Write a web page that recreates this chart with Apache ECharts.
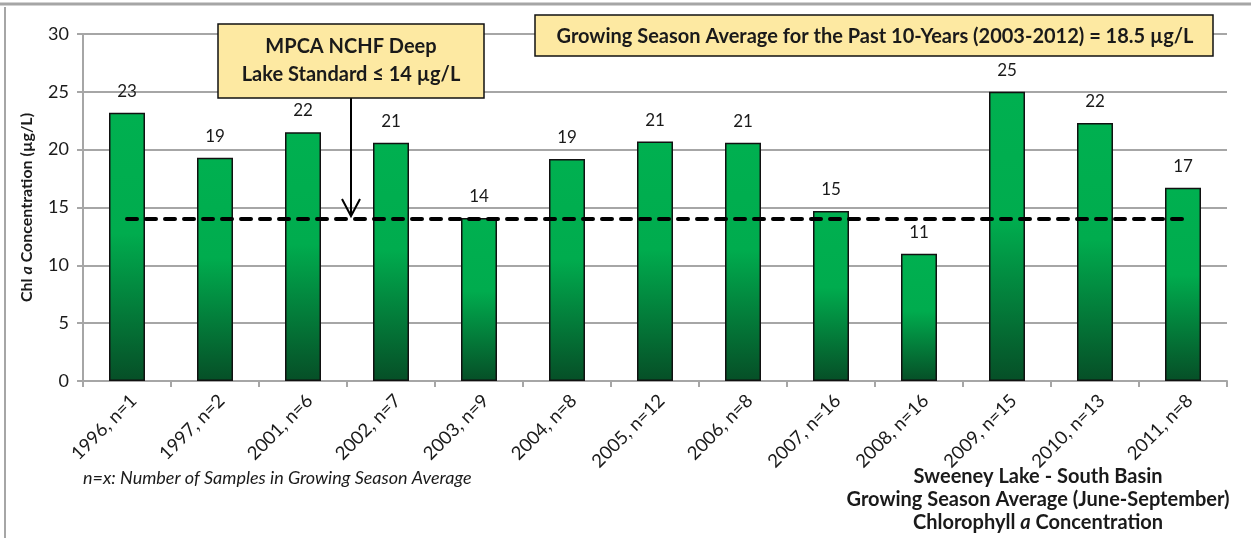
<!DOCTYPE html>
<html>
<head>
<meta charset="utf-8">
<title>Sweeney Lake - South Basin Chlorophyll a</title>
<script src="https://cdn.jsdelivr.net/npm/echarts@6/dist/echarts.min.js"></script>
<style>
  html, body { margin: 0; padding: 0; background: #fff; }
  #chart { width: 1251px; height: 538px; }
</style>
</head>
<body>
<div id="chart"></div>
<script>
// data
var categories = ['1996, n=1', '1997, n=2', '2001, n=6', '2002, n=7', '2003, n=9', '2004, n=8',
  '2005, n=12', '2006, n=8', '2007, n=16', '2008, n=16', '2009, n=15', '2010, n=13', '2011, n=8'];
var chlValues = [23.2, 19.3, 21.5, 20.6, 14.1, 19.2, 20.7, 20.6, 14.7, 11.0, 25.0, 22.3, 16.7];
var standardValue = 14;
var standardLine = categories.map(function () { return standardValue; });
var yTicks = [0, 5, 10, 15, 20, 25, 30];

var FONT = 'Lato, "Open Sans", sans-serif';
var TXT = '#1a1a1a';
var GRAY = '#a6a6a6';

var chart = echarts.init(document.getElementById('chart'));

var option = {
  animation: false,
  backgroundColor: '#fff',
  textStyle: { fontFamily: FONT, color: TXT },
  grid: { left: 83, right: 24, top: 34, bottom: 157, containLabel: false },
  xAxis: {
    type: 'category',
    data: categories,
    boundaryGap: true,
    axisLine: { lineStyle: { color: GRAY, width: 2 } },
    axisTick: { show: true, length: 6, alignWithLabel: false, lineStyle: { color: GRAY, width: 2 } },
    axisLabel: {
      rotate: 45, fontSize: 18.5, color: TXT, fontFamily: FONT,
      margin: 10, interval: 0, verticalAlign: 'top'
    },
    splitLine: { show: false }
  },
  yAxis: {
    type: 'value',
    min: yTicks[0],
    max: yTicks[yTicks.length - 1],
    interval: 5,
    name: '{b|Chl }{i|a}{b| Concentration (µg/L)}',
    nameLocation: 'middle',
    nameGap: 48,
    nameTextStyle: {
      fontSize: 16,
      fontWeight: 'bold',
      fontFamily: FONT,
      color: TXT,
      rich: {
        b: { fontSize: 16, fontWeight: 'bold', color: TXT, fontFamily: FONT },
        i: { fontSize: 16, fontWeight: 'bold', fontStyle: 'italic', color: TXT, fontFamily: FONT }
      }
    },
    axisLine: { show: true, lineStyle: { color: GRAY, width: 2 } },
    axisTick: { show: true, length: 6, lineStyle: { color: GRAY, width: 2 } },
    axisLabel: { fontSize: 18, color: TXT, fontFamily: FONT, margin: 14 },
    splitLine: { show: true, lineStyle: { color: GRAY, width: 2 } }
  },
  series: [
    {
      name: 'Chlorophyll a',
      type: 'bar',
      data: chlValues,
      barWidth: 36,
      itemStyle: {
        color: new echarts.graphic.LinearGradient(0, 0, 0, 1, [
          { offset: 0, color: '#00b050' },
          { offset: 0.45, color: '#00ac4e' },
          { offset: 1, color: '#064f27' }
        ]),
        borderColor: '#111',
        borderWidth: 1.5
      },
      label: {
        show: true,
        position: 'top',
        distance: 13,
        fontSize: 17,
        color: TXT,
        fontFamily: FONT,
        formatter: function (p) { return Math.round(p.value); }
      },
      z: 2
    },
    {
      name: 'MPCA Standard',
      type: 'line',
      data: standardLine,
      symbol: 'none',
      lineStyle: { color: '#000', width: 4, type: [10, 9], cap: 'round' },
      z: 3
    }
  ],
  graphic: [
    // outer frame pieces
    { type: 'line', shape: { x1: 0, y1: 4, x2: 1251, y2: 4 }, style: { stroke: GRAY, lineWidth: 3 } },
    { type: 'line', shape: { x1: 5, y1: 7, x2: 5, y2: 538 }, style: { stroke: GRAY, lineWidth: 2 } },
    // standard callout
    {
      type: 'rect', shape: { x: 218, y: 24, width: 266, height: 74 },
      style: { fill: '#fde9a2', stroke: '#111', lineWidth: 1.5 }, z: 10
    },
    {
      type: 'text', x: 351, y: 61, z: 11,
      style: {
        text: 'MPCA NCHF Deep\nLake Standard \u2264 14 µg/L',
        align: 'center', verticalAlign: 'middle', lineHeight: 28,
        font: 'bold 20px ' + FONT, fill: TXT
      }
    },
    // 10-year average callout
    {
      type: 'rect', shape: { x: 535, y: 15, width: 678, height: 41 },
      style: { fill: '#fde9a2', stroke: '#111', lineWidth: 1.5 }, z: 10
    },
    {
      type: 'text', x: 875, y: 37, z: 11,
      style: {
        text: 'Growing Season Average for the Past 10-Years (2003-2012) = 18.5 µg/L',
        align: 'center', verticalAlign: 'middle',
        font: 'bold 20px ' + FONT, fill: TXT
      }
    },
    // footnote
    {
      type: 'text', x: 83, y: 478,
      style: {
        text: 'n=x: Number of Samples in Growing Season Average',
        align: 'left', verticalAlign: 'middle',
        font: 'italic 18px ' + FONT, fill: TXT
      }
    },
    // chart title, bottom right
    {
      type: 'text', x: 1038, y: 477,
      style: {
        text: 'Sweeney Lake - South Basin',
        align: 'center', verticalAlign: 'middle',
        font: 'bold 20px ' + FONT, fill: TXT
      }
    },
    {
      type: 'text', x: 1038, y: 500,
      style: {
        text: 'Growing Season Average (June-September)',
        align: 'center', verticalAlign: 'middle',
        font: 'bold 20px ' + FONT, fill: TXT
      }
    },
    {
      type: 'text', x: 1038, y: 523,
      style: {
        text: '{b|Chlorophyll }{i|a}{b| Concentration}',
        align: 'center', verticalAlign: 'middle',
        rich: {
          b: { fontSize: 20, fontWeight: 'bold', fontFamily: FONT, fill: TXT },
          i: { fontSize: 20, fontWeight: 'bold', fontStyle: 'italic', fontFamily: FONT, fill: TXT }
        }
      }
    }
  ]
};

chart.setOption(option);

// arrow from the standard callout down to the dashed 14 µg/L line
var tipY = chart.convertToPixel({ yAxisIndex: 0 }, standardValue) - 3;
var arrowX = 351;
chart.setOption({
  graphic: option.graphic.concat([
    { type: 'line', shape: { x1: arrowX, y1: 98, x2: arrowX, y2: tipY }, style: { stroke: '#000', lineWidth: 2 }, z: 9 },
    { type: 'polyline', shape: { points: [[arrowX - 9, tipY - 17], [arrowX, tipY], [arrowX + 9, tipY - 17]] },
      style: { stroke: '#000', lineWidth: 2, fill: null }, z: 9 }
  ])
});
</script>
</body>
</html>
